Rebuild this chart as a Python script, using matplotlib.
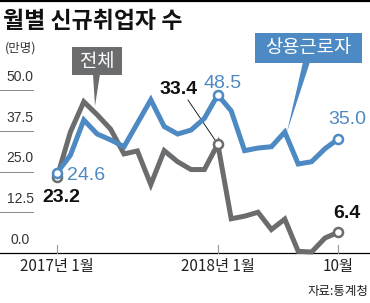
import numpy as np
import matplotlib
matplotlib.use("Agg")
import matplotlib.pyplot as plt
from matplotlib.patches import Polygon, Rectangle

plt.rcParams["font.family"] = ["Noto Sans CJK KR", "DejaVu Sans"]

# 데이터 (만명), 2017년 1월 ~ 2018년 10월
months = np.arange(22)
total = [23.2, 37.1, 46.4, 42.4, 38.0, 30.4, 31.3, 21.0, 31.4, 28.0, 25.6, 25.6,
         33.4, 10.5, 11.3, 12.5, 7.2, 10.4, 0.5, 0.3, 4.6, 6.4]
regular = [24.6, 30.0, 40.8, 36.5, 34.7, 32.6, 39.8, 47.0, 38.8, 36.5, 37.7, 41.3,
           48.5, 43.6, 31.4, 32.2, 32.6, 37.1, 27.3, 28.0, 32.0, 35.0]
yticks = [0.0, 12.5, 25.0, 37.5, 50.0]
xtick_pos = [0, 12, 21]
xtick_labels = ["2017년 1월", "2018년 1월", "10월"]

BLUE = "#4d89c2"
GRAY = "#6b6c6e"
NUM = ["Liberation Sans Narrow", "Liberation Sans", "DejaVu Sans"]

W, H = 370, 303
fig = plt.figure(figsize=(W / 100, H / 100), dpi=100)
ax = fig.add_axes([0, 0, 1, 1])
ax.axis("off")

# 픽셀 기준: 2017년 1월 -> x=57, 월당 13.4px / 0 -> y=253, 1만명당 3.26px
x0, dx = 57, 13.4
y0, dy = 253, 3.26
ax.set_xlim(-x0 / dx, (W - x0) / dx)
ax.set_ylim(-(H - y0) / dy, y0 / dy)


def px(x, y):
    return x / W, 1 - y / H


# 상단 라인, 제목
fig.add_artist(plt.Line2D([0, 1], [1 - 1 / H, 1 - 1 / H], color="black", lw=1.6))
fig.text(*px(3, 21), "월별 신규취업자 수", fontsize=16.5, fontweight="bold",
         va="center", ha="left", color="#111111")
fig.text(*px(5, 48), "(만명)", fontsize=9, va="center", ha="left", color="#333333")

# y축 눈금
xl = ax.get_xlim()[0]
for v in yticks:
    if v == 0:
        ax.axhline(0, color="black", lw=0.9)
    else:
        ax.plot([xl, xl + 33 / dx], [v, v], color="#888888", lw=0.7)
    fig.text(*px(20, y0 - v * dy - 13), f"{v:.1f}", fontsize=10, family=NUM,
             ha="center", va="center", color="#333333")

# x축 눈금
for m, lab in zip(xtick_pos, xtick_labels):
    ax.plot([m, m], [0, 8 / dy], color="#999999", lw=0.8)
    ax.text(m, -14 / dy, lab, fontsize=11, ha="center", va="center", color="#222222")

fig.text(*px(368, 292), "자료:통계청", fontsize=9, ha="right", va="center", color="#222222")

# 선
ax.plot(months, total, color=GRAY, lw=3.6, solid_joinstyle="miter", zorder=3)
ax.plot(months, regular, color=BLUE, lw=3.6, solid_joinstyle="miter", zorder=4)
for ser, c, idx in [(total, GRAY, [0, 12, 21]), (regular, BLUE, [0, 12, 21])]:
    ax.plot([months[i] for i in idx], [ser[i] for i in idx], "o", ms=6.5,
            mfc="white", mec=c, mew=1.8, zorder=5)

# 수치 라벨
fig.text(*px(61, 198), "23.2", fontsize=14, fontweight="bold", family=NUM, ha="center", va="center", color="#111111")
fig.text(*px(86, 175), "24.6", fontsize=14, family=NUM, ha="center", va="center", color=BLUE)
fig.text(*px(179, 89), "33.4", fontsize=14, fontweight="bold", family=NUM, ha="center", va="center", color="#111111")
fig.text(*px(223, 84), "48.5", fontsize=14, family=NUM, ha="center", va="center", color=BLUE)
fig.text(*px(347, 120), "35.0", fontsize=14, family=NUM, ha="center", va="center", color=BLUE)
fig.text(*px(347, 213), "6.4", fontsize=14, fontweight="bold", family=NUM, ha="center", va="center", color="#111111")
ax.plot([(188 - x0) / dx, 12], [(y0 - 100) / dy, total[12]], color="black", lw=0.6, zorder=2)


# 범례 박스
def callout(box, tip, base, text, color):
    bx, by, bw, bh = box
    r = Rectangle(px(bx, by + bh), bw / W, bh / H, transform=fig.transFigure,
                  facecolor=color, edgecolor="none")
    fig.add_artist(r)
    p = Polygon([px(base[0], by + bh - 1), px(base[1], by + bh - 1), px(*tip)],
                closed=True, transform=fig.transFigure, facecolor=color, edgecolor="none")
    fig.add_artist(p)
    fig.text(*px(bx + bw / 2, by + bh / 2), text, fontsize=13.5, color="white",
             ha="center", va="center")


callout((72, 47, 50, 28), (95, 106), (93, 100), "전체", GRAY)
callout((255, 33, 107, 30), (287, 132), (303, 310), "상용근로자", BLUE)

fig.savefig("out.png", dpi=100)
